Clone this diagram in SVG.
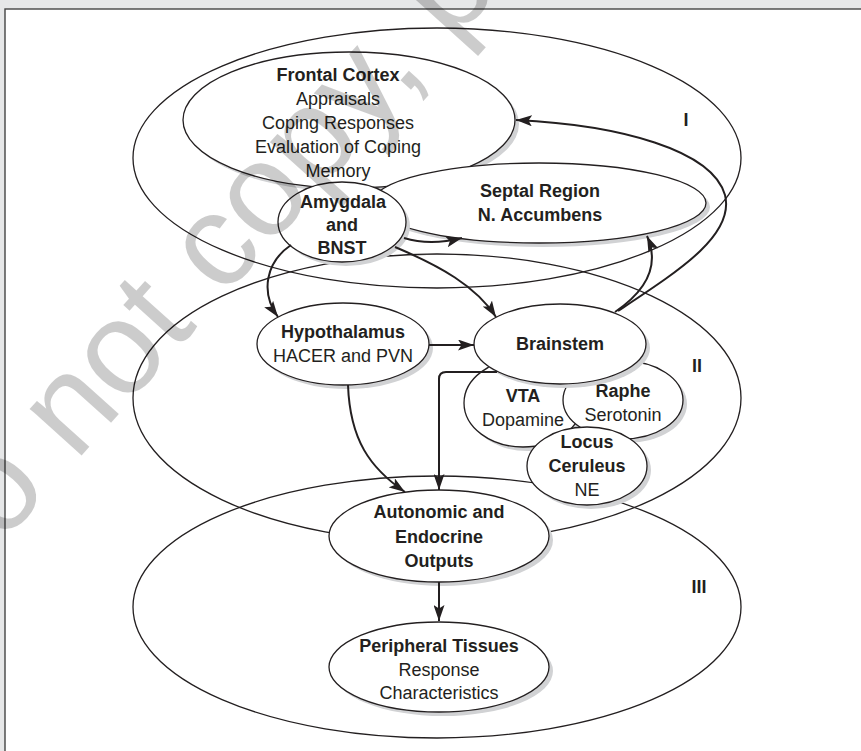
<svg xmlns="http://www.w3.org/2000/svg" width="861" height="751" viewBox="0 0 861 751">
<style>
.big{fill:none;stroke:#231f20;stroke-width:1.3}
.nd{fill:#fff;stroke:#231f20;stroke-width:1.3}
.sh{fill:#d1d2d4;stroke:none}
text{font-family:"Liberation Sans",Arial,Helvetica,sans-serif;font-size:18px;fill:#231f20;text-anchor:middle}
.b{font-weight:bold}
.cn{fill:none;stroke:#231f20;stroke-width:2}
.wm{font-size:132px;fill:#000;fill-opacity:0.2;text-anchor:start}
</style>
<defs>
<marker id="ah" markerUnits="userSpaceOnUse" markerWidth="16" markerHeight="11" viewBox="0 0 16 11" refX="16" refY="5.5" orient="auto">
<path d="M0,0 L16,5.5 L0,11 L3.5,5.5 z" fill="#231f20"/>
</marker>
</defs>
<rect x="0" y="0" width="861" height="751" fill="#e6e7e8"/>
<rect x="5" y="9" width="900" height="800" fill="#fff" stroke="#444" stroke-width="1.4"/>

<g id="regions">
<ellipse class="big" cx="437" cy="158" rx="304" ry="130"/>
<ellipse class="big" cx="437" cy="398" rx="304" ry="144"/>
<ellipse class="big" cx="437" cy="607" rx="304" ry="131"/>
<text class="b" x="686" y="126">I</text>
<text class="b" x="697" y="372">II</text>
<text class="b" x="699" y="593">III</text>
</g>

<g id="frontal-cortex">
<ellipse class="sh" cx="353" cy="124" rx="166" ry="68"/>
<ellipse class="nd" cx="349" cy="120" rx="166" ry="68"/>
<text class="b" x="338" y="81">Frontal Cortex</text>
<text x="338" y="105">Appraisals</text>
<text x="338" y="129">Coping Responses</text>
<text x="338" y="153">Evaluation of Coping</text>
<text x="338" y="177">Memory</text>
</g>

<g id="septal">
<ellipse class="sh" cx="543" cy="207" rx="167" ry="40"/>
<ellipse class="nd" cx="539" cy="203" rx="167" ry="40"/>
<text class="b" x="540" y="197">Septal Region</text>
<text class="b" x="540" y="221">N. Accumbens</text>
</g>

<g id="amygdala">
<ellipse class="sh" cx="346" cy="226" rx="64" ry="40"/>
<ellipse class="nd" cx="342" cy="222" rx="64" ry="40"/>
<text class="b" x="343" y="208">Amygdala</text>
<text class="b" x="342" y="231">and</text>
<text class="b" x="342" y="254">BNST</text>
</g>

<g id="hypothalamus">
<ellipse class="sh" cx="347" cy="348" rx="86" ry="41"/>
<ellipse class="nd" cx="343" cy="344" rx="86" ry="41"/>
<text class="b" x="343" y="338">Hypothalamus</text>
<text x="343" y="362">HACER and PVN</text>
</g>

<g id="vta">
<ellipse class="sh" cx="527" cy="407" rx="59" ry="44"/>
<ellipse class="nd" cx="523" cy="403" rx="59" ry="44"/>
<text class="b" x="523" y="402">VTA</text>
<text x="523" y="426">Dopamine</text>
</g>

<g id="raphe">
<ellipse class="sh" cx="627" cy="404" rx="60" ry="39"/>
<ellipse class="nd" cx="623" cy="400" rx="60" ry="39"/>
<text class="b" x="623" y="397">Raphe</text>
<text x="623" y="421">Serotonin</text>
</g>

<g id="locus-ceruleus">
<ellipse class="sh" cx="591" cy="470" rx="60" ry="39"/>
<ellipse class="nd" cx="587" cy="466" rx="60" ry="39"/>
<text class="b" x="587" y="448">Locus</text>
<text class="b" x="587" y="472">Ceruleus</text>
<text x="587" y="496">NE</text>
</g>

<g id="brainstem">
<ellipse class="sh" cx="564" cy="348" rx="86" ry="40"/>
<ellipse class="nd" cx="560" cy="344" rx="86" ry="40"/>
<text class="b" x="560" y="350">Brainstem</text>
</g>

<g id="autonomic">
<ellipse class="sh" cx="443" cy="540" rx="110" ry="46"/>
<ellipse class="nd" cx="439" cy="536" rx="110" ry="46"/>
<text class="b" x="439" y="518">Autonomic and</text>
<text class="b" x="439" y="543">Endocrine</text>
<text class="b" x="439" y="567">Outputs</text>
</g>

<g id="peripheral">
<ellipse class="sh" cx="443" cy="671" rx="110" ry="45"/>
<ellipse class="nd" cx="439" cy="667" rx="110" ry="45"/>
<text class="b" x="439" y="652">Peripheral Tissues</text>
<text x="439" y="676">Response</text>
<text x="439" y="699">Characteristics</text>
</g>

<g id="connectors">
<path class="cn" marker-end="url(#ah)" d="M291,245 C266,262 260,292 278,317"/>
<path class="cn" marker-end="url(#ah)" d="M404,238 Q430,246 462,238"/>
<path class="cn" marker-end="url(#ah)" d="M395,247 C440,266 476,286 496,317"/>
<path class="cn" marker-end="url(#ah)" d="M429,345 L474,345"/>
<path class="cn" marker-end="url(#ah)" d="M348,385 C350,440 370,468 405,492"/>
<path class="cn" marker-end="url(#ah)" d="M497,372 L446,372 Q439,372 439,379 L439,490"/>
<path class="cn" marker-end="url(#ah)" d="M615,312 C640,295 662,270 647,236"/>
<path class="cn" marker-end="url(#ah)" d="M618,311 C680,270 735,235 725,195 C712,150 620,125 516,120"/>
<path class="cn" marker-end="url(#ah)" d="M439,582 L439,621"/>
</g>

<text class="wm" transform="translate(-62,615) rotate(-48)">Do not copy, post, or distribute</text>
</svg>
